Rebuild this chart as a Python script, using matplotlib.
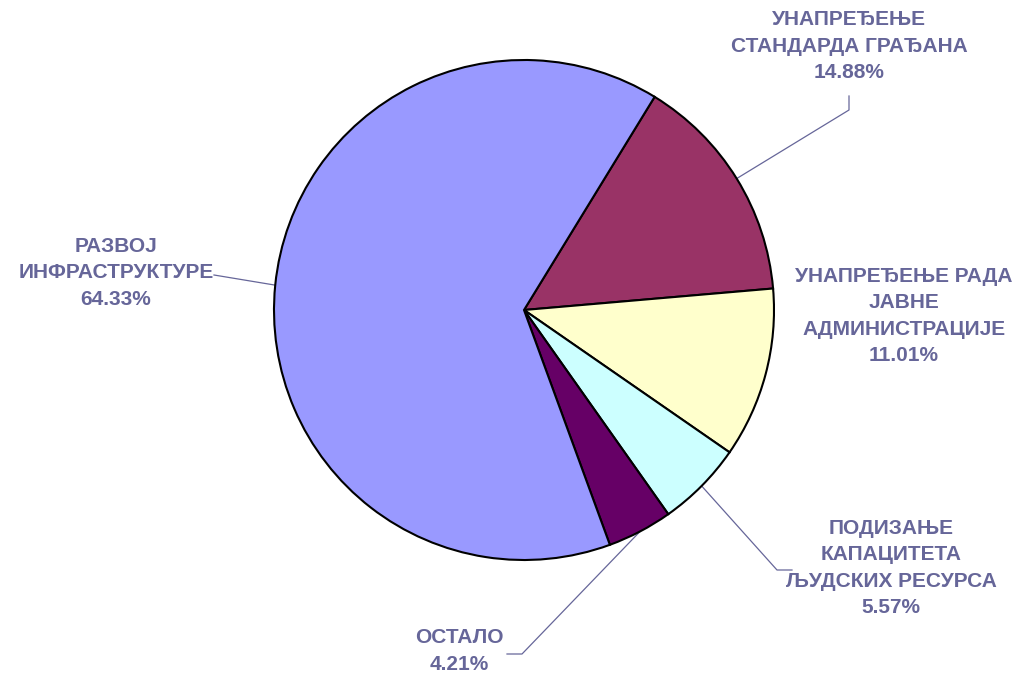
import numpy as np
import matplotlib
matplotlib.use('Agg')
import matplotlib.pyplot as plt

# data, in pie order (clockwise from the top-right boundary)
labels = ['УНАПРЕЂЕЊЕ\nСТАНДАРДА ГРАЂАНА',
          'УНАПРЕЂЕЊЕ РАДА\nЈАВНЕ\nАДМИНИСТРАЦИЈЕ',
          'ПОДИЗАЊЕ\nКАПАЦИТЕТА\nЉУДСКИХ РЕСУРСА',
          'ОСТАЛО',
          'РАЗВОЈ\nИНФРАСТРУКТУРЕ']
shares = [14.88, 11.01, 5.57, 4.21, 64.33]
colors = ['#993366', '#FFFFCC', '#CCFFFF', '#660066', '#9999FF']

W, H = 1027, 676
txt_col = '#666699'

fig = plt.figure(figsize=(W / 100, H / 100), dpi=100)
ax = fig.add_axes([0, 0, 1, 1])

cx, cy, r = 524, H - 310, 250
wedges, _ = ax.pie(shares, colors=colors, startangle=58.5, counterclock=False,
                   center=(cx, cy), radius=r, frame=True,
                   wedgeprops=dict(edgecolor='black', linewidth=1.5))
ax.set_xlim(0, W)
ax.set_ylim(0, H)
ax.set_aspect('equal')
ax.axis('off')

# label text positions (pixel coords, y from top) and leader elbows
label_pos = [(849, 46), (904, 316), (891, 568), (459, 651), (116, 273)]
leaders = [[(849, 110), (849, 96)],
           None,
           [(777, 570), (792, 570)],
           [(522, 654), (507, 654)],
           [(214, 275)]]

for w, lab, val, (lx, ly), ld in zip(wedges, labels, shares, label_pos, leaders):
    ax.text(lx, H - ly, f'{lab}\n{val:.2f}%', ha='center', va='center',
            fontsize=15, fontweight='bold', color=txt_col,
            family='Liberation Sans', linespacing=1.5)
    if ld is None:
        continue
    mid = np.deg2rad((w.theta1 + w.theta2) / 2)
    pts = [(cx + r * np.cos(mid), cy + r * np.sin(mid))] + [(x, H - y) for x, y in ld]
    xs, ys = zip(*pts)
    ax.plot(xs, ys, color=txt_col, linewidth=0.9, zorder=0)

fig.savefig('out.png', dpi=100)
